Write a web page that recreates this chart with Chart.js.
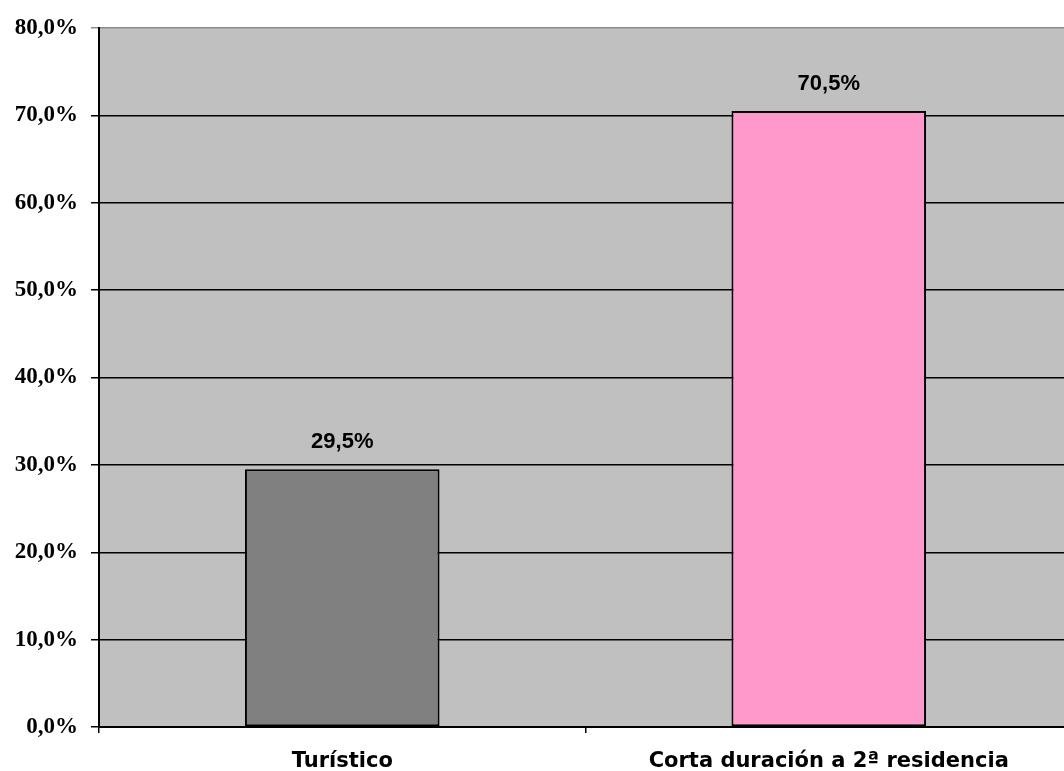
<!DOCTYPE html>
<html>
<head>
<meta charset="utf-8">
<script src="https://cdn.jsdelivr.net/npm/chart.js@4.4.1/dist/chart.umd.min.js"></script>
<style>
  html, body { margin: 0; padding: 0; background: #ffffff; overflow: hidden; }
  #wrap { width: 1080px; height: 771px; }
</style>
</head>
<body>
<div id="wrap"><canvas id="c" width="1080" height="771"></canvas></div>
<script>
// Categories and shares (percent)
const categories = ['Turístico', 'Corta duración a 2ª residencia'];
const shares = [29.5, 70.5];
const barColors = ['#808080', '#FF99CC'];
const yMax = 80;
const yStep = 10;

const fmtPct = v => v.toFixed(1).replace('.', ',') + '%';

// Grey plot-area background
const plotBg = {
  id: 'plotBg',
  beforeDraw(chart) {
    const { ctx, chartArea: a } = chart;
    ctx.save();
    ctx.fillStyle = '#C0C0C0';
    ctx.fillRect(a.left, a.top, a.right - a.left, a.bottom - a.top);
    ctx.restore();
  }
};

// Value labels above each bar
const valueLabels = {
  id: 'valueLabels',
  afterDatasetsDraw(chart) {
    const { ctx } = chart;
    const meta = chart.getDatasetMeta(0);
    const data = chart.data.datasets[0].data;
    ctx.save();
    ctx.font = 'bold 22px "Liberation Sans", Arial, sans-serif';
    ctx.fillStyle = '#000';
    ctx.textAlign = 'center';
    ctx.textBaseline = 'alphabetic';
    meta.data.forEach((bar, i) => {
      ctx.fillText(fmtPct(data[i]), bar.x, bar.y - 21);
    });
    ctx.restore();
  }
};

new Chart(document.getElementById('c'), {
  type: 'bar',
  data: {
    labels: categories,
    datasets: [{
      data: shares,
      backgroundColor: barColors,
      borderColor: '#000',
      borderWidth: 2,
      borderSkipped: false,
      categoryPercentage: 1.0,
      barPercentage: 0.4
    }]
  },
  options: {
    responsive: false,
    animation: false,
    devicePixelRatio: 1,
    layout: { padding: { top: 28, right: 8, left: 0, bottom: 0 } },
    plugins: { legend: { display: false }, tooltip: { enabled: false } },
    scales: {
      x: {
        offset: true,
        grid: {
          offset: true,
          drawOnChartArea: false,
          drawTicks: true,
          tickLength: 6,
          color: '#000',
          lineWidth: 1.5
        },
        border: { display: true, color: '#000', width: 2 },
        ticks: {
          color: '#000',
          padding: 16,
          font: { family: '"DejaVu Sans", Verdana, sans-serif', size: 21, weight: 'bold' }
        },
        afterFit(s) { s.height = 44; }
      },
      y: {
        min: 0,
        max: yMax,
        ticks: {
          stepSize: yStep,
          color: '#000',
          padding: 13,
          font: { family: '"Liberation Serif", "Times New Roman", serif', size: 23, weight: 'bold' },
          callback: v => fmtPct(v)
        },
        grid: {
          drawTicks: true,
          tickLength: 8,
          color: ctx => (ctx.tick && ctx.tick.value === yMax) ? '#8c8c8c' : '#000',
          lineWidth: 1.5
        },
        border: { display: true, color: '#000', width: 2 },
        afterFit(s) { s.width = 99; }
      }
    }
  },
  plugins: [plotBg, valueLabels]
});
</script>
</body>
</html>
